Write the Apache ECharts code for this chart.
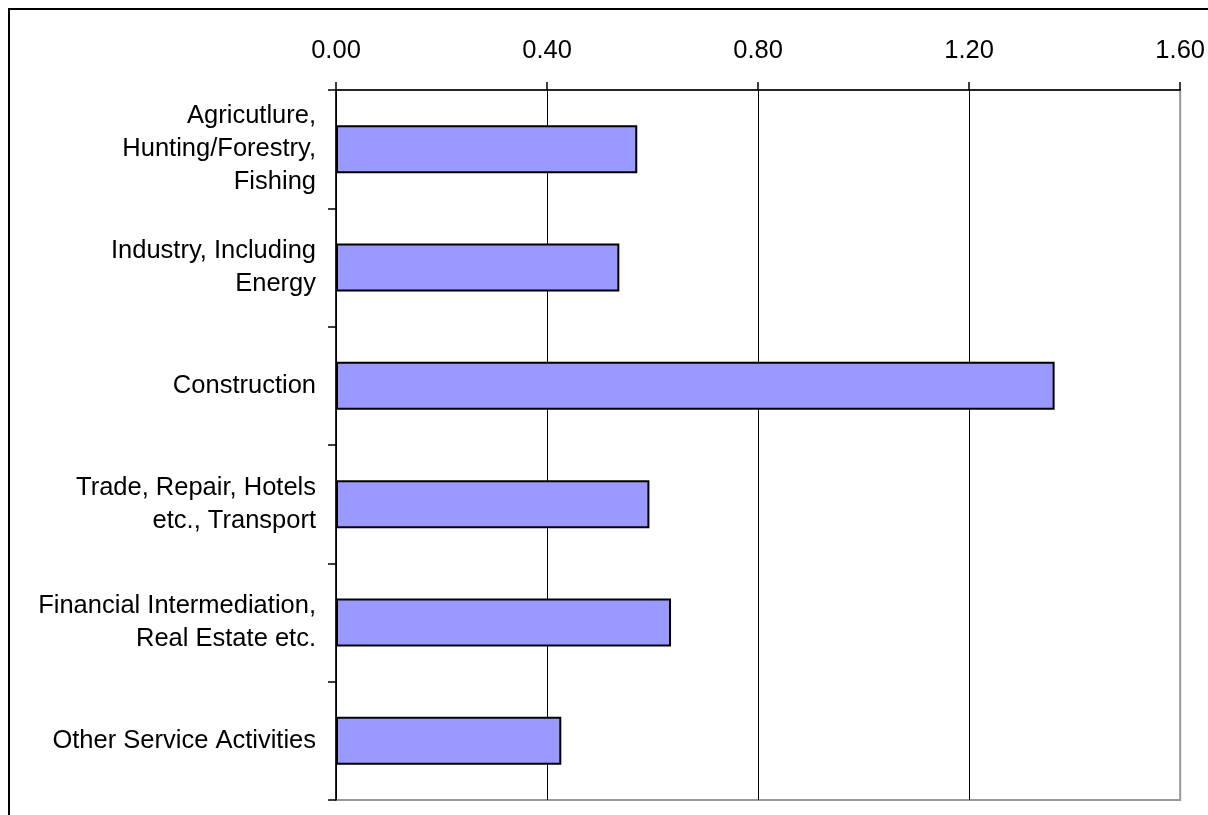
<!DOCTYPE html>
<html>
<head>
<meta charset="utf-8">
<script src="https://cdn.jsdelivr.net/npm/echarts@6/dist/echarts.min.js"></script>
<style>
  html, body { margin: 0; padding: 0; background: #fff; }
  #main { width: 1208px; height: 815px; }
</style>
</head>
<body>
<div id="main"></div>
<script>
// 行业类别和数值
var categories = [
    'Agricutlure,\nHunting/Forestry,\nFishing',
    'Industry, Including\nEnergy',
    'Construction',
    'Trade, Repair, Hotels\netc., Transport',
    'Financial Intermediation,\nReal Estate etc.',
    'Other Service Activities'
];
var values = [0.571, 0.537, 1.362, 0.594, 0.635, 0.427];
var xTicks = [0, 0.4, 0.8, 1.2, 1.6];

var myChart = echarts.init(document.getElementById('main'));
var option = {
    animation: false,
    graphic: [{
        // 外框，右侧和底部在画面之外
        type: 'rect',
        shape: { x: 9, y: 9, width: 1220, height: 830 },
        style: { fill: 'none', stroke: '#000', lineWidth: 2 },
        z: 10
    }],
    grid: {
        left: 336, top: 90, right: 25, bottom: 15,
        show: true,
        borderColor: '#999',
        borderWidth: 2,
        backgroundColor: '#fff'
    },
    xAxis: {
        type: 'value',
        position: 'top',
        min: xTicks[0],
        max: xTicks[xTicks.length - 1],
        interval: 0.4,
        axisLine: { show: true, lineStyle: { color: '#000', width: 1.5 } },
        axisTick: { show: true, length: 8, lineStyle: { color: '#000', width: 1.5 } },
        axisLabel: {
            margin: 26,
            fontFamily: 'Liberation Sans, Arial, sans-serif',
            fontSize: 25.5,
            color: '#000',
            formatter: function (v) { return v.toFixed(2); }
        },
        splitLine: {
            show: true,
            showMaxLine: false,
            lineStyle: { color: '#000', width: 1 }
        }
    },
    yAxis: {
        type: 'category',
        inverse: true,
        data: categories,
        axisLine: { show: true, lineStyle: { color: '#000', width: 1.5 } },
        axisTick: { show: true, length: 8, lineStyle: { color: '#000', width: 1.5 } },
        axisLabel: {
            margin: 20,
            fontFamily: 'Liberation Sans, Arial, sans-serif',
            fontSize: 25.5,
            lineHeight: 33,
            color: '#000',
            align: 'right'
        }
    },
    series: [{
        type: 'bar',
        data: values,
        barWidth: 48,
        itemStyle: {
            color: '#9999FF',
            borderColor: '#000',
            borderWidth: 2
        }
    }]
};
myChart.setOption(option, true);
window.addEventListener('resize', function () {
    myChart.resize();
});
</script>
</body>
</html>
